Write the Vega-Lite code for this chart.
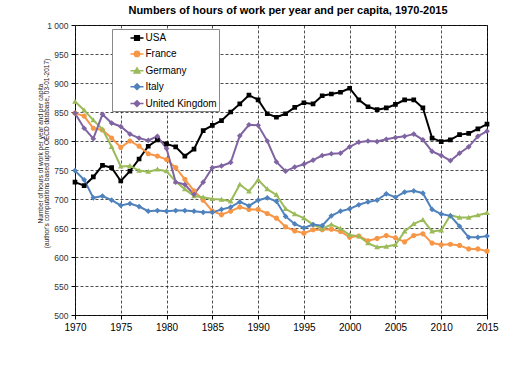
{
"$schema": "https://vega.github.io/schema/vega-lite/v6.json",
"width": 412, "height": 290,
"autosize": {"type": "none"},
"padding": {"left": 75, "top": 25, "right": 43, "bottom": 60},
"background": "white",
"config": {"font": "Liberation Sans", "view": {"stroke": "black", "strokeWidth": 1},
  "legend": {"orient": "none", "legendX": 37, "legendY": 4, "padding": 1.5, "symbolOffset": 16, "labelOffset": 1, "rowPadding": 2.9, "labelFontSize": 10, "labelColor": "black", "symbolSize": 169, "symbolStrokeWidth": 1.5, "strokeColor": "#888888", "fillColor": "white", "title": null}},
"title": {"text": "Numbers of hours of work per year and per capita, 1970-2015", "fontSize": 11, "fontWeight": "bold", "color": "black", "offset": 5, "dx": 7},
"data": {"values": [
{"year":1970,"country":"USA","hours":729},{"year":1971,"country":"USA","hours":723},{"year":1972,"country":"USA","hours":738},{"year":1973,"country":"USA","hours":758},{"year":1974,"country":"USA","hours":754},{"year":1975,"country":"USA","hours":731},{"year":1976,"country":"USA","hours":748},{"year":1977,"country":"USA","hours":769},{"year":1978,"country":"USA","hours":791},{"year":1979,"country":"USA","hours":802},{"year":1980,"country":"USA","hours":795},{"year":1981,"country":"USA","hours":790},{"year":1982,"country":"USA","hours":774},{"year":1983,"country":"USA","hours":786},{"year":1984,"country":"USA","hours":818},{"year":1985,"country":"USA","hours":827},{"year":1986,"country":"USA","hours":835},{"year":1987,"country":"USA","hours":850},{"year":1988,"country":"USA","hours":864},{"year":1989,"country":"USA","hours":879},{"year":1990,"country":"USA","hours":871},{"year":1991,"country":"USA","hours":847},{"year":1992,"country":"USA","hours":841},{"year":1993,"country":"USA","hours":847},{"year":1994,"country":"USA","hours":858},{"year":1995,"country":"USA","hours":866},{"year":1996,"country":"USA","hours":864},{"year":1997,"country":"USA","hours":878},{"year":1998,"country":"USA","hours":881},{"year":1999,"country":"USA","hours":884},{"year":2000,"country":"USA","hours":891},{"year":2001,"country":"USA","hours":871},{"year":2002,"country":"USA","hours":859},{"year":2003,"country":"USA","hours":854},{"year":2004,"country":"USA","hours":857},{"year":2005,"country":"USA","hours":863},{"year":2006,"country":"USA","hours":871},{"year":2007,"country":"USA","hours":871},{"year":2008,"country":"USA","hours":857},{"year":2009,"country":"USA","hours":805},{"year":2010,"country":"USA","hours":799},{"year":2011,"country":"USA","hours":802},{"year":2012,"country":"USA","hours":811},{"year":2013,"country":"USA","hours":813},{"year":2014,"country":"USA","hours":821},{"year":2015,"country":"USA","hours":829},
{"year":1970,"country":"France","hours":848},{"year":1971,"country":"France","hours":843},{"year":1972,"country":"France","hours":822},{"year":1973,"country":"France","hours":819},{"year":1974,"country":"France","hours":805},{"year":1975,"country":"France","hours":789},{"year":1976,"country":"France","hours":800},{"year":1977,"country":"France","hours":791},{"year":1978,"country":"France","hours":778},{"year":1979,"country":"France","hours":774},{"year":1980,"country":"France","hours":768},{"year":1981,"country":"France","hours":754},{"year":1982,"country":"France","hours":734},{"year":1983,"country":"France","hours":714},{"year":1984,"country":"France","hours":698},{"year":1985,"country":"France","hours":679},{"year":1986,"country":"France","hours":673},{"year":1987,"country":"France","hours":679},{"year":1988,"country":"France","hours":686},{"year":1989,"country":"France","hours":682},{"year":1990,"country":"France","hours":682},{"year":1991,"country":"France","hours":675},{"year":1992,"country":"France","hours":667},{"year":1993,"country":"France","hours":652},{"year":1994,"country":"France","hours":645},{"year":1995,"country":"France","hours":641},{"year":1996,"country":"France","hours":647},{"year":1997,"country":"France","hours":647},{"year":1998,"country":"France","hours":648},{"year":1999,"country":"France","hours":644},{"year":2000,"country":"France","hours":634},{"year":2001,"country":"France","hours":636},{"year":2002,"country":"France","hours":628},{"year":2003,"country":"France","hours":632},{"year":2004,"country":"France","hours":637},{"year":2005,"country":"France","hours":633},{"year":2006,"country":"France","hours":626},{"year":2007,"country":"France","hours":637},{"year":2008,"country":"France","hours":640},{"year":2009,"country":"France","hours":624},{"year":2010,"country":"France","hours":621},{"year":2011,"country":"France","hours":622},{"year":2012,"country":"France","hours":620},{"year":2013,"country":"France","hours":614},{"year":2014,"country":"France","hours":614},{"year":2015,"country":"France","hours":610},
{"year":1970,"country":"Germany","hours":868},{"year":1971,"country":"Germany","hours":853},{"year":1972,"country":"Germany","hours":836},{"year":1973,"country":"Germany","hours":820},{"year":1974,"country":"Germany","hours":790},{"year":1975,"country":"Germany","hours":756},{"year":1976,"country":"Germany","hours":757},{"year":1977,"country":"Germany","hours":749},{"year":1978,"country":"Germany","hours":747},{"year":1979,"country":"Germany","hours":751},{"year":1980,"country":"Germany","hours":748},{"year":1981,"country":"Germany","hours":730},{"year":1982,"country":"Germany","hours":717},{"year":1983,"country":"Germany","hours":705},{"year":1984,"country":"Germany","hours":703},{"year":1985,"country":"Germany","hours":700},{"year":1986,"country":"Germany","hours":699},{"year":1987,"country":"Germany","hours":696},{"year":1988,"country":"Germany","hours":725},{"year":1989,"country":"Germany","hours":713},{"year":1990,"country":"Germany","hours":733},{"year":1991,"country":"Germany","hours":717},{"year":1992,"country":"Germany","hours":707},{"year":1993,"country":"Germany","hours":683},{"year":1994,"country":"Germany","hours":674},{"year":1995,"country":"Germany","hours":667},{"year":1996,"country":"Germany","hours":656},{"year":1997,"country":"Germany","hours":649},{"year":1998,"country":"Germany","hours":656},{"year":1999,"country":"Germany","hours":649},{"year":2000,"country":"Germany","hours":638},{"year":2001,"country":"Germany","hours":636},{"year":2002,"country":"Germany","hours":624},{"year":2003,"country":"Germany","hours":617},{"year":2004,"country":"Germany","hours":618},{"year":2005,"country":"Germany","hours":621},{"year":2006,"country":"Germany","hours":644},{"year":2007,"country":"Germany","hours":657},{"year":2008,"country":"Germany","hours":664},{"year":2009,"country":"Germany","hours":644},{"year":2010,"country":"Germany","hours":646},{"year":2011,"country":"Germany","hours":672},{"year":2012,"country":"Germany","hours":668},{"year":2013,"country":"Germany","hours":668},{"year":2014,"country":"Germany","hours":672},{"year":2015,"country":"Germany","hours":676},
{"year":1970,"country":"Italy","hours":749},{"year":1971,"country":"Italy","hours":733},{"year":1972,"country":"Italy","hours":702},{"year":1973,"country":"Italy","hours":705},{"year":1974,"country":"Italy","hours":698},{"year":1975,"country":"Italy","hours":689},{"year":1976,"country":"Italy","hours":692},{"year":1977,"country":"Italy","hours":687},{"year":1978,"country":"Italy","hours":679},{"year":1979,"country":"Italy","hours":680},{"year":1980,"country":"Italy","hours":679},{"year":1981,"country":"Italy","hours":680},{"year":1982,"country":"Italy","hours":680},{"year":1983,"country":"Italy","hours":679},{"year":1984,"country":"Italy","hours":677},{"year":1985,"country":"Italy","hours":677},{"year":1986,"country":"Italy","hours":682},{"year":1987,"country":"Italy","hours":686},{"year":1988,"country":"Italy","hours":695},{"year":1989,"country":"Italy","hours":688},{"year":1990,"country":"Italy","hours":698},{"year":1991,"country":"Italy","hours":702},{"year":1992,"country":"Italy","hours":696},{"year":1993,"country":"Italy","hours":670},{"year":1994,"country":"Italy","hours":657},{"year":1995,"country":"Italy","hours":650},{"year":1996,"country":"Italy","hours":656},{"year":1997,"country":"Italy","hours":654},{"year":1998,"country":"Italy","hours":671},{"year":1999,"country":"Italy","hours":679},{"year":2000,"country":"Italy","hours":683},{"year":2001,"country":"Italy","hours":690},{"year":2002,"country":"Italy","hours":695},{"year":2003,"country":"Italy","hours":698},{"year":2004,"country":"Italy","hours":709},{"year":2005,"country":"Italy","hours":703},{"year":2006,"country":"Italy","hours":712},{"year":2007,"country":"Italy","hours":714},{"year":2008,"country":"Italy","hours":710},{"year":2009,"country":"Italy","hours":682},{"year":2010,"country":"Italy","hours":674},{"year":2011,"country":"Italy","hours":671},{"year":2012,"country":"Italy","hours":653},{"year":2013,"country":"Italy","hours":634},{"year":2014,"country":"Italy","hours":634},{"year":2015,"country":"Italy","hours":636},
{"year":1970,"country":"United Kingdom","hours":848},{"year":1971,"country":"United Kingdom","hours":822},{"year":1972,"country":"United Kingdom","hours":804},{"year":1973,"country":"United Kingdom","hours":846},{"year":1974,"country":"United Kingdom","hours":831},{"year":1975,"country":"United Kingdom","hours":825},{"year":1976,"country":"United Kingdom","hours":812},{"year":1977,"country":"United Kingdom","hours":805},{"year":1978,"country":"United Kingdom","hours":801},{"year":1979,"country":"United Kingdom","hours":808},{"year":1980,"country":"United Kingdom","hours":787},{"year":1981,"country":"United Kingdom","hours":729},{"year":1982,"country":"United Kingdom","hours":725},{"year":1983,"country":"United Kingdom","hours":708},{"year":1984,"country":"United Kingdom","hours":729},{"year":1985,"country":"United Kingdom","hours":754},{"year":1986,"country":"United Kingdom","hours":757},{"year":1987,"country":"United Kingdom","hours":763},{"year":1988,"country":"United Kingdom","hours":809},{"year":1989,"country":"United Kingdom","hours":828},{"year":1990,"country":"United Kingdom","hours":827},{"year":1991,"country":"United Kingdom","hours":800},{"year":1992,"country":"United Kingdom","hours":764},{"year":1993,"country":"United Kingdom","hours":748},{"year":1994,"country":"United Kingdom","hours":755},{"year":1995,"country":"United Kingdom","hours":760},{"year":1996,"country":"United Kingdom","hours":767},{"year":1997,"country":"United Kingdom","hours":775},{"year":1998,"country":"United Kingdom","hours":778},{"year":1999,"country":"United Kingdom","hours":779},{"year":2000,"country":"United Kingdom","hours":790},{"year":2001,"country":"United Kingdom","hours":798},{"year":2002,"country":"United Kingdom","hours":800},{"year":2003,"country":"United Kingdom","hours":799},{"year":2004,"country":"United Kingdom","hours":803},{"year":2005,"country":"United Kingdom","hours":806},{"year":2006,"country":"United Kingdom","hours":808},{"year":2007,"country":"United Kingdom","hours":812},{"year":2008,"country":"United Kingdom","hours":802},{"year":2009,"country":"United Kingdom","hours":782},{"year":2010,"country":"United Kingdom","hours":775},{"year":2011,"country":"United Kingdom","hours":766},{"year":2012,"country":"United Kingdom","hours":779},{"year":2013,"country":"United Kingdom","hours":790},{"year":2014,"country":"United Kingdom","hours":808},{"year":2015,"country":"United Kingdom","hours":817}
]},
"encoding": {
  "x": {"field": "year", "type": "quantitative", "scale": {"domain": [1970, 2015], "nice": false, "zero": false},
    "axis": {"title": null, "values": [1970,1975,1980,1985,1990,1995,2000,2005,2010,2015], "format": "d", "grid": true, "gridDash": [3,2], "gridColor": "#222222", "gridWidth": 0.8, "domain": false, "ticks": true, "tickSize": 4, "tickColor": "black", "labelFontSize": 10, "labelColor": "black", "labelPadding": 3, "labelFlush": false}},
  "y": {"field": "hours", "type": "quantitative", "scale": {"domain": [500, 1000], "nice": false, "zero": false},
    "axis": {"title": ["Number of hours of work per year and per capita", "(author's computations based upon OECD database, 03-01-2017)"], "titleFontSize": 6.5, "titleLineHeight": 6.5, "titleFontWeight": "normal", "titleColor": "#222222", "titleAngle": -90, "titleX": -32, "titleY": 128, "titleAlign": "center", "titleBaseline": "bottom",
      "values": [500,550,600,650,700,750,800,850,900,950,1000], "labelExpr": "datum.value >= 1000 ? '1 000' : datum.label", "grid": true, "gridDash": [3,2], "gridColor": "#222222", "gridWidth": 0.8, "domain": false, "ticks": true, "tickSize": 4, "tickColor": "black", "labelFontSize": 8.5, "labelColor": "#333333", "labelPadding": 3}},
  "color": {"field": "country", "type": "nominal", "scale": {"domain": ["USA", "France", "Germany", "Italy", "United Kingdom"], "range": ["#000000", "#F79646", "#9BBB59", "#4F81BD", "#8064A2"]},
    "legend": {"labelExpr": "datum.label + '\u00a0\u00a0\u00a0\u00a0\u00a0\u00a0'"}}
},
"layer": [
  {"mark": {"type": "line", "strokeWidth": 2}},
  {"mark": {"type": "point", "filled": true, "opacity": 1, "size": 169},
   "encoding": {
     "strokeWidth": {"value": 0},
     "shape": {"field": "country", "type": "nominal", "scale": {"domain": ["USA", "France", "Germany", "Italy", "United Kingdom"], "range": ["M-1,0H1M-0.36,-0.36H0.36V0.36H-0.36Z", "M-1,0H1M0.4,0A0.4,0.4,0,1,1,-0.4,0A0.4,0.4,0,1,1,0.4,0Z", "M-1,0H1M0,-0.44L0.44,0.32H-0.44Z", "M-1,0H1M0,-0.44L0.44,0L0,0.44L-0.44,0Z", "M-1,0H1M0,-0.44L0.44,0L0,0.44L-0.44,0Z"]},
     "legend": {"labelExpr": "datum.label + '\u00a0\u00a0\u00a0\u00a0\u00a0\u00a0'"}}}}
]
}
